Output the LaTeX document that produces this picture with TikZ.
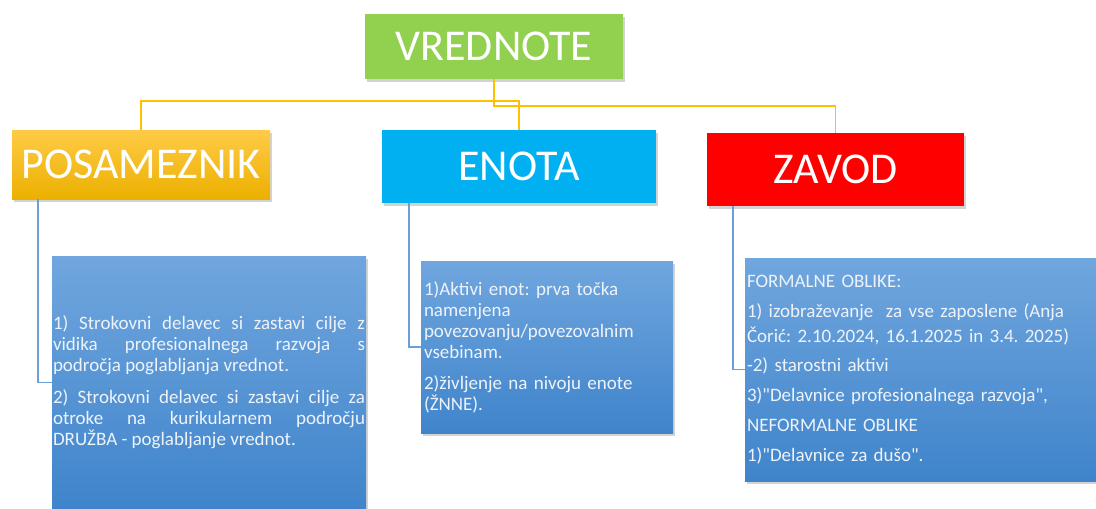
\documentclass[tikz,border=0pt]{standalone}
\usepackage{fontspec}
\setmainfont{Carlito}[Ligatures=TeXOff]
\usepackage{tikz}
\usetikzlibrary{shadows}
\frenchspacing

\definecolor{vgreen}{HTML}{92D050}
\definecolor{ptop}{HTML}{FFCB47}
\definecolor{pbot}{HTML}{EBB000}
\definecolor{ecyan}{HTML}{00B0F0}
\definecolor{zred}{HTML}{FF0000}
\definecolor{cardtop}{HTML}{70A6DE}
\definecolor{cardbot}{HTML}{3F84CB}
\definecolor{cardtext}{HTML}{EEF3FA}
\definecolor{gold}{HTML}{FFC000}
\definecolor{lineblue}{HTML}{6A9FD8}

\begin{document}
\begin{tikzpicture}[x=1pt,y=-1pt,
    head/.style={inner sep=0pt,text=white,font=\fontsize{44}{44}\selectfont,
        drop shadow={opacity=0.35,shadow xshift=2pt,shadow yshift=-3pt}},
    card/.style={inner ysep=0pt,text=cardtext,top color=cardtop,bottom color=cardbot,
        font=\fontsize{19}{21}\selectfont,
        drop shadow={opacity=0.35,shadow xshift=2pt,shadow yshift=-3pt}},
    yline/.style={draw=gold,line width=1.6pt},
    bline/.style={draw=lineblue,line width=1.4pt}]
                    \useasboundingbox (0,0) rectangle (1096,509);

                    % headings
                    \node (vred) at (494,46.5) [head,fill=vgreen,minimum width=258pt,minimum height=65pt] {VREDNOTE};
                    \node (posam) at (141,164.5) [head,top color=ptop,bottom color=pbot,minimum width=258pt,minimum height=69pt] {POSAMEZNIK};
                    \node (enota) at (519,166.5) [head,fill=ecyan,minimum width=274pt,minimum height=73pt] {ENOTA};
                    \node (zavod) at (835.5,169.5) [head,fill=zred,minimum width=257pt,minimum height=73pt] {ZAVOD};

                    % text cards
                    \node (leftcard) at (209,382.5) [card,inner xsep=1pt,text width=312pt,minimum height=253pt,align=justify]
                        {1) Strokovni delavec si zastavi cilje z\linebreak vidika profesionalnega razvoja s\linebreak področja poglabljanja vrednot.\\[11pt]
                         2) Strokovni delavec si zastavi cilje za\linebreak otroke na kurikularnem področju\linebreak DRUŽBA - poglabljanje vrednot.};
                    \node (midcard) at (547,347) [card,inner xsep=3pt,text width=246pt,minimum height=172pt,align=left]
                        {1)Aktivi enot: prva točka\\ namenjena\\ povezovanju/povezovalnim\\ vsebinam.\\[10pt]
                         2)življenje na nivoju enote\\ (ŽNNE).};
                    \node (rightcard) at (925,369.5) [card,inner xsep=2pt,text width=356pt,minimum height=223pt,align=left,
                        font=\fontsize{19}{25}\selectfont]
                        {FORMALNE OBLIKE:\\[5pt]
                         1) izobraževanje\ \ za vse zaposlene (Anja\\ Čorić: 2.10.2024, 16.1.2025 in 3.4. 2025)\\[4pt]
                         -2) starostni aktivi\\[5pt]
                         3)"Delavnice profesionalnega razvoja",\\[5pt]
                         NEFORMALNE OBLIKE\\[5pt]
                         1)"Delavnice za dušo".};

                    % connectors
                    \coordinate (busa) at (0,101);
                    \coordinate (busb) at (0,106);
                    \draw[yline] (posam.north) |- (busa -| enota.north) -- (enota.north);
                    \draw[yline] (vred.south) |- (busb -| zavod.north) -- (zavod.north);

                    \draw[bline] ([xshift=26pt]posam.south west) |- (leftcard.west);
                    \draw[bline] ([xshift=27pt]enota.south west) |- (midcard.west);
                    \draw[bline] ([xshift=26pt]zavod.south west) |- (rightcard.west);
                \end{tikzpicture}
\end{document}
